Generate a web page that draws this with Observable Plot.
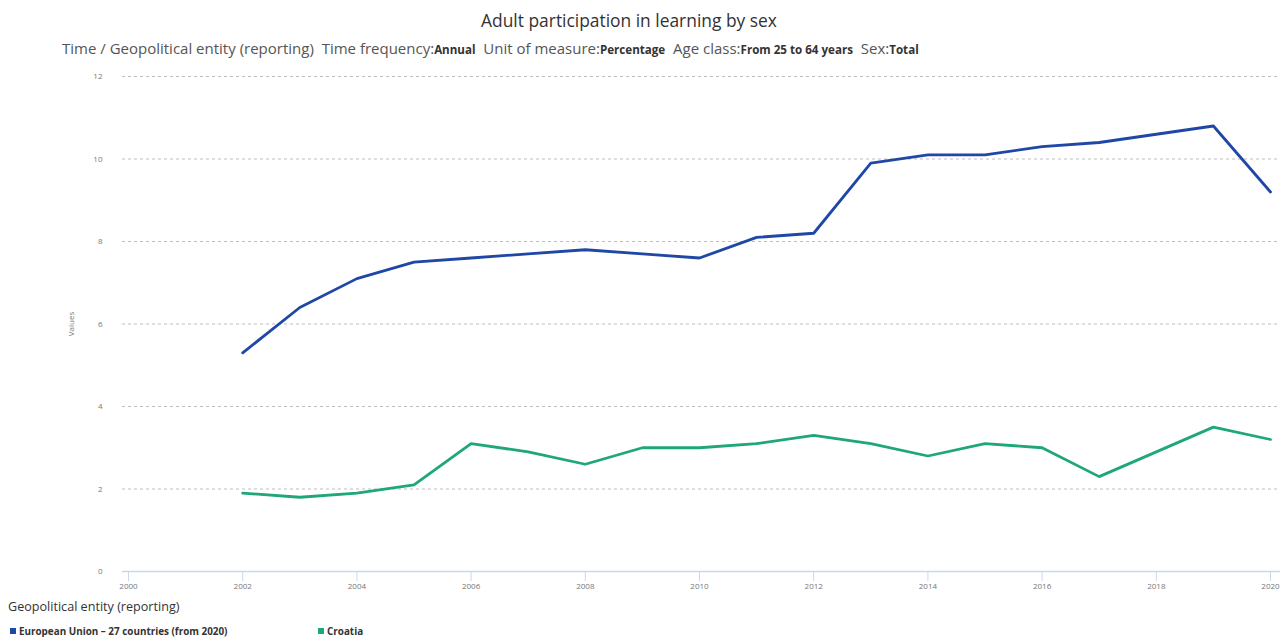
<!DOCTYPE html>
<html><head><meta charset="utf-8">
<script src="https://cdn.jsdelivr.net/npm/d3@7"></script>
<script src="https://cdn.jsdelivr.net/npm/@observablehq/plot@0.6"></script>
<style>
body{margin:0;background:#fff;font-family:"Open Sans",sans-serif;}
#wrap{position:relative;width:1282px;height:637px;overflow:hidden;}
#title{position:absolute;top:8px;left:0;width:1258px;text-align:center;font-size:17.4px;color:#333;}
#sub{position:absolute;top:38px;left:62px;font-size:15px;color:#555;white-space:nowrap;}
#sub b{font-size:11.6px;color:#333;}
#chart{position:absolute;top:64px;left:0;}
#lh{position:absolute;top:598px;left:8px;font-size:12.6px;color:#333;}
#legend{position:absolute;top:624px;left:10px;font-size:9.9px;font-weight:bold;color:#333;white-space:nowrap;}
#legend span.item{position:absolute;top:0;}
#legend i{display:inline-block;width:6px;height:6px;margin-right:3px;vertical-align:middle;position:relative;top:-1px;}
</style></head>
<body>
<div id="wrap">
  <div id="title">Adult participation in learning by sex</div>
  <div id="sub">Time / Geopolitical entity (reporting)&nbsp; Time frequency:<b>Annual</b>&nbsp; Unit of measure:<b>Percentage</b>&nbsp; Age class:<b>From 25 to 64 years</b>&nbsp; Sex:<b>Total</b></div>
  <div id="chart"></div>
  <div id="lh">Geopolitical entity (reporting)</div>
  <div id="legend"></div>
</div>
<script>
const years = [2002,2003,2004,2005,2006,2007,2008,2009,2010,2011,2012,2013,2014,2015,2016,2017,2018,2019,2020];
const euValues = [5.3,6.4,7.1,7.5,7.6,7.7,7.8,7.7,7.6,8.1,8.2,9.9,10.1,10.1,10.3,10.4,10.6,10.8,9.2];
const hrValues = [1.9,1.8,1.9,2.1,3.1,2.9,2.6,3.0,3.0,3.1,3.3,3.1,2.8,3.1,3.0,2.3,2.9,3.5,3.2];
const seriesNames = ["European Union \u2013 27 countries (from 2020)", "Croatia"];
const seriesColors = ["#1f48a6", "#1fa67a"];
const xTicks = [2000,2002,2004,2006,2008,2010,2012,2014,2016,2018,2020];
const yTicks = [0,2,4,6,8,10,12];

const data = [];
years.forEach((y,i)=>{
  data.push({year:y, value:euValues[i], series:seriesNames[0]});
});
years.forEach((y,i)=>{
  data.push({year:y, value:hrValues[i], series:seriesNames[1]});
});

const chart = Plot.plot({
  width:1282, height:534,
  marginLeft:122, marginRight:2, marginTop:12, marginBottom:27,
  style:{fontFamily:"'Open Sans', sans-serif", background:"#fff"},
  x:{domain:[1999.895, 2020.175]},
  y:{domain:[0,12]},
  color:{domain:seriesNames, range:seriesColors},
  marks:[
    Plot.ruleY(yTicks.filter(d=>d>0), {stroke:"#bdbdbd", strokeDasharray:"3,3", strokeWidth:1}),
    Plot.ruleY([0], {stroke:"#ccd6eb", strokeWidth:1.5}),
    Plot.axisX({ticks:xTicks, tickFormat:d=>String(d), tickSize:10, tickPadding:2, stroke:"#ccd6eb", fill:"#777", fontSize:8, label:null}),
    Plot.axisY({ticks:yTicks, tickSize:0, tickPadding:20, fontSize:8, fill:"#777", label:"Values", labelAnchor:"center", labelArrow:"none", labelOffset:54}),
    Plot.line(data, {x:"year", y:"value", z:"series", stroke:"series", strokeWidth:2.8, strokeLinejoin:"round", strokeLinecap:"round"})
  ]
});
document.getElementById("chart").appendChild(chart);

const leg = document.getElementById("legend");
const legX = [0, 308];
seriesNames.forEach((n,i)=>{
  const s = document.createElement("span");
  s.className = "item";
  s.style.left = legX[i] + "px";
  const sw = document.createElement("i");
  sw.style.background = seriesColors[i];
  s.appendChild(sw);
  s.appendChild(document.createTextNode(n));
  leg.appendChild(s);
});
</script>
</body></html>
